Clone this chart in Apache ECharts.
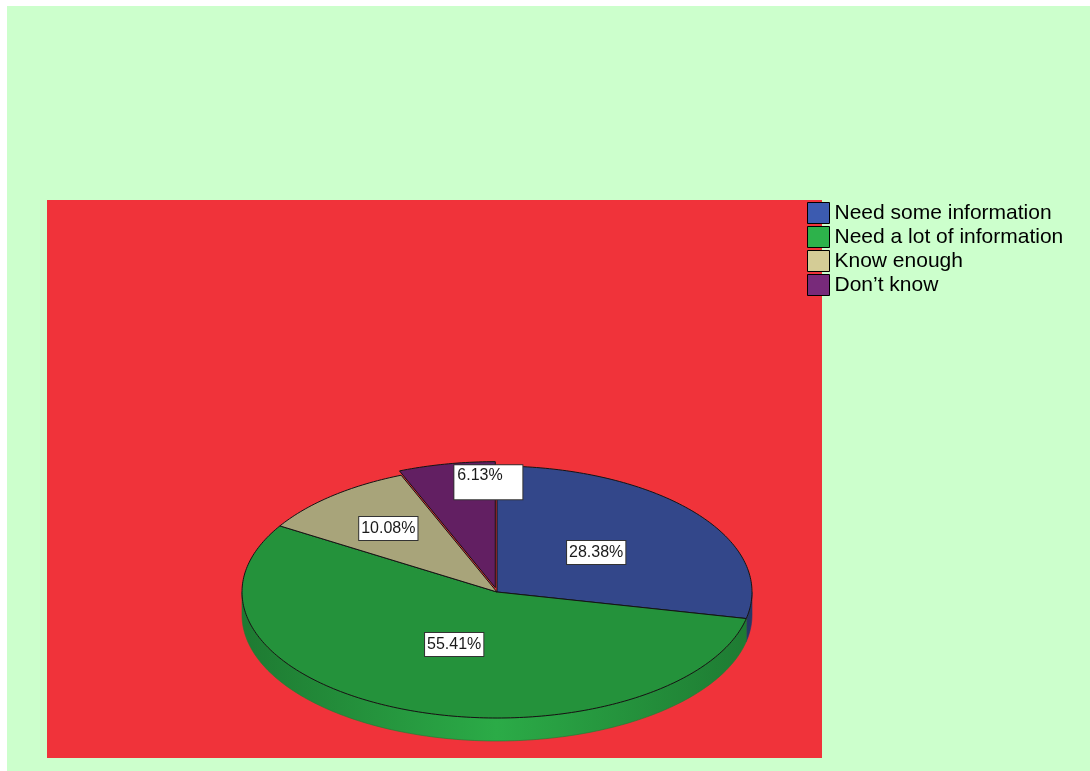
<!DOCTYPE html>
<html>
<head>
<meta charset="utf-8">
<title>Information need</title>
<script src="https://cdn.jsdelivr.net/npm/echarts@6/dist/echarts.min.js"></script>
<style>
  html, body { margin: 0; padding: 0; background: #ffffff; }
  #chart { width: 1090px; height: 771px; }
</style>
</head>
<body>
<div id="chart"></div>
<script>
// Categories and their shares (percent)
const categories = ['Need some information', 'Need a lot of information', 'Know enough', 'Don\u2019t know'];
const shares = [28.38, 55.41, 10.08, 6.13];
const shareLabels = ['28.38%', '55.41%', '10.08%', '6.13%'];

// Colours: legend swatches, shaded top faces, and side walls (edge, middle)
const swatchColors = ['#3c5bb0', '#2db24b', '#d4cc96', '#782a7a'];
const topColors = ['#33478a', '#24923b', '#a8a47a', '#621f62'];
const sideColors = [['#263766', '#34498c'], ['#1e7a32', '#2bab47'], ['#7d7a5a', '#a8a47a'], ['#4a174a', '#621f62']];

// Pie geometry (tilted disc)
const CX = 497, CY = 592, RX = 255, RY = 126, DEPTH = 23;
const explode = [0, 0, 0, 0.035];
const labelRadius = [0.5, 0.45, 0.66, 0.9];

const total = shares.reduce((a, b) => a + b, 0);
const starts = [];
let acc = 0;
shares.forEach(v => { starts.push(acc); acc += v; });

function toAngle(v) { return v / total * Math.PI * 2; }
// angle measured clockwise from 12 o'clock
function pt(theta, r, dx, dy, drop) {
  return [CX + dx + r * RX * Math.sin(theta), CY + dy - r * RY * Math.cos(theta) + (drop || 0)];
}

function renderSlice(params, api) {
  const i = params.dataIndex;
  const v = api.value(1);
  const a0 = toAngle(starts[i]);
  const a1 = a0 + toAngle(v);
  const mid = (a0 + a1) / 2;
  const dx = explode[i] * RX * Math.sin(mid);
  const dy = -explode[i] * RY * Math.cos(mid);
  const steps = Math.max(4, Math.ceil((a1 - a0) / (Math.PI / 180)));
  const children = [];

  // side wall on the front half of the disc
  const s0 = Math.max(a0, Math.PI / 2), s1 = Math.min(a1, Math.PI * 1.5);
  if (s1 > s0) {
    const n = Math.max(4, Math.ceil((s1 - s0) / (Math.PI / 180)));
    const upper = [], lower = [];
    for (let k = 0; k <= n; k++) {
      const t = s0 + (s1 - s0) * k / n;
      upper.push(pt(t, 1, dx, dy));
      lower.push(pt(t, 1, dx, dy, DEPTH));
    }
    children.push({
      type: 'polygon',
      shape: { points: upper.concat(lower.reverse()) },
      style: {
        fill: {
          type: 'linear', global: true,
          x: CX - RX, y: 0, x2: CX + RX, y2: 0,
          colorStops: [
            { offset: 0, color: sideColors[i][0] },
            { offset: 0.5, color: sideColors[i][1] },
            { offset: 1, color: sideColors[i][0] }
          ]
        },
        stroke: sideColors[i][0], lineWidth: 0.6
      }
    });
  }

  // top face
  const pts = [[CX + dx, CY + dy]];
  for (let k = 0; k <= steps; k++) {
    pts.push(pt(a0 + (a1 - a0) * k / steps, 1, dx, dy));
  }
  children.push({
    type: 'polygon',
    shape: { points: pts },
    style: { fill: topColors[i], stroke: '#141414', lineWidth: 1 }
  });

  // value label
  const lp = pt(mid, labelRadius[i], dx, dy);
  const small = i === 3;
  children.push({
    type: 'text',
    z2: 100,
    x: small ? lp[0] + 3 : lp[0],
    y: small ? lp[1] - 11 : lp[1],
    style: {
      text: shareLabels[i],
      font: '16px Arial, "Liberation Sans", sans-serif',
      fill: '#1a1a1a',
      align: small ? 'left' : 'center',
      verticalAlign: small ? 'top' : 'middle',
      backgroundColor: '#ffffff',
      borderColor: '#333333',
      borderWidth: 1,
      padding: small ? [2, 3, 3, 3] : [4, 2, 3, 2],
      width: small ? 62 : undefined,
      height: small ? 29 : undefined
    }
  });

  return { type: 'group', children: children };
}

const chart = echarts.init(document.getElementById('chart'), null, { renderer: 'canvas' });

// empty series that only feed the legend
const legendSeries = categories.map((name, i) => ({
  type: 'custom',
  name: name,
  coordinateSystem: 'none',
  data: [],
  renderItem: () => null,
  itemStyle: { color: swatchColors[i] }
}));

chart.setOption({
  backgroundColor: '#ffffff',
  animation: false,
  graphic: [
    { type: 'rect', z: -10, silent: true, shape: { x: 7, y: 6, width: 1083, height: 765 }, style: { fill: '#ccffcc' } },
    { type: 'rect', z: -9, silent: true, shape: { x: 47, y: 200, width: 775, height: 558 }, style: { fill: '#f0333a' } }
  ],
  legend: {
    orient: 'vertical',
    left: 807,
    top: 202,
    padding: 0,
    icon: 'rect',
    itemWidth: 22,
    itemHeight: 21,
    itemGap: 2,
    selectedMode: false,
    data: categories.map((name, i) => ({ name: name, itemStyle: { color: swatchColors[i], borderColor: '#000', borderWidth: 1 } })),
    textStyle: { fontSize: 21, lineHeight: 21, color: '#000000', fontFamily: 'Arial, "Liberation Sans", sans-serif' }
  },
  series: [
    {
      type: 'custom',
      name: 'shares',
      coordinateSystem: 'none',
      data: shares.map((v, i) => [i, v]),
      renderItem: renderSlice
    }
  ].concat(legendSeries)
});
</script>
</body>
</html>
